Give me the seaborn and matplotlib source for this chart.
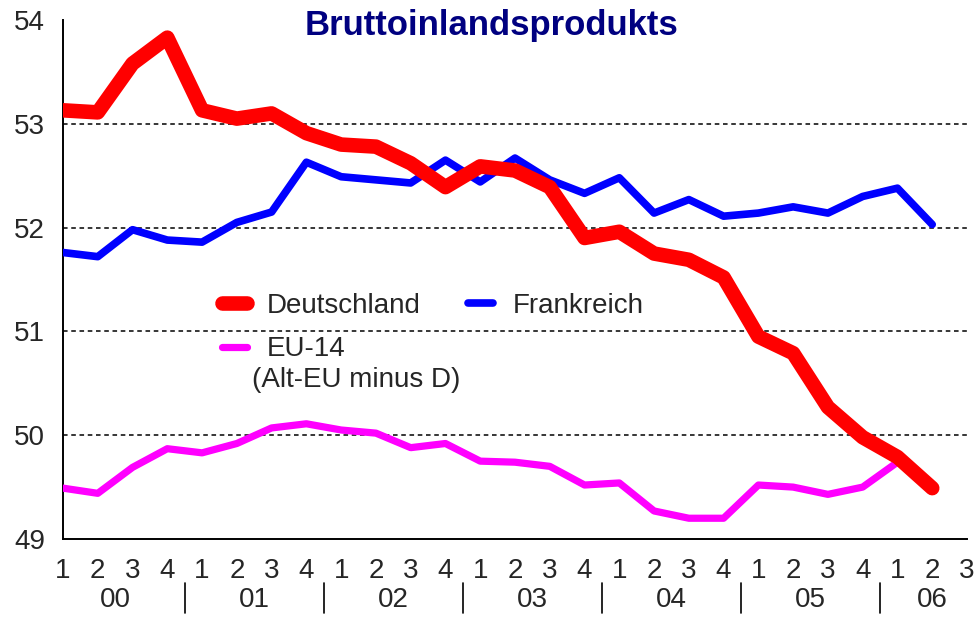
import numpy as np
import pandas as pd
import seaborn as sns
import matplotlib.pyplot as plt
from matplotlib.lines import Line2D

# quarterly values, 2000 Q1 .. 2006 Q2
quarters = ['1', '2', '3', '4'] * 6 + ['1', '2', '3']
years = ['00', '01', '02', '03', '04', '05', '06']

deutschland = [53.13, 53.11, 53.58, 53.83, 53.13, 53.05, 53.10, 52.91, 52.80, 52.78,
               52.62, 52.39, 52.59, 52.55, 52.39, 51.90, 51.96, 51.75, 51.69, 51.52,
               50.95, 50.79, 50.27, 49.98, 49.79, 49.49]
frankreich = [51.76, 51.72, 51.98, 51.88, 51.86, 52.05, 52.15, 52.63, 52.49, 52.46,
              52.43, 52.65, 52.44, 52.67, 52.46, 52.33, 52.48, 52.14, 52.27, 52.11,
              52.14, 52.20, 52.14, 52.30, 52.38, 52.03]
eu14 = [49.49, 49.44, 49.69, 49.87, 49.83, 49.92, 50.07, 50.11, 50.05, 50.02,
        49.88, 49.92, 49.75, 49.74, 49.70, 49.52, 49.54, 49.27, 49.20, 49.20,
        49.52, 49.50, 49.43, 49.50, 49.74, np.nan]

grid_levels = [50, 51, 52, 53]

sns.set_style('white')
plt.rcParams['font.family'] = ['Liberation Sans', 'DejaVu Sans']

t = np.arange(len(deutschland))
df = pd.DataFrame({'t': t, 'Deutschland': deutschland,
                   'Frankreich': frankreich, 'EU-14': eu14})

fig = plt.figure(figsize=(9.78, 6.17), dpi=100)
ax = fig.add_axes([63 / 978, 1 - 539 / 617, (967 - 63) / 978, (539 - 20) / 617])

for lev in grid_levels:
    ax.axhline(lev, color='black', lw=1.1, linestyle=(0, (3, 2.4)), zorder=1)

# draw order: EU-14, Frankreich, Deutschland on top
sns.lineplot(data=df, x='t', y='EU-14', color='#ff00ff', lw=5.2, ax=ax,
             solid_capstyle='round', solid_joinstyle='round', zorder=3)
sns.lineplot(data=df, x='t', y='Frankreich', color='#0000ff', lw=5.5, ax=ax,
             solid_capstyle='round', solid_joinstyle='round', zorder=4)
sns.lineplot(data=df, x='t', y='Deutschland', color='#ff0000', lw=10.5, ax=ax,
             solid_capstyle='round', solid_joinstyle='round', zorder=5)

ax.set_xlim(0, len(quarters) - 1)
ax.set_ylim(49, 54)
ax.set_xlabel('')
ax.set_ylabel('')
ax.set_xticks(range(len(quarters)))
ax.set_xticklabels(quarters)
ax.set_yticks([49, 50, 51, 52, 53, 54])
ax.tick_params(axis='x', length=0, pad=14, labelsize=20)
ax.tick_params(axis='y', direction='in', length=4, width=1, pad=13, labelsize=20)
sns.despine(ax=ax)
for s in ['left', 'bottom']:
    ax.spines[s].set_color('black')
    ax.spines[s].set_linewidth(1.4)

# year labels and separators under the quarter ticks
trans = ax.get_xaxis_transform()
for i, yr in enumerate(years):
    start = 4 * i
    end = min(start + 3, len(quarters) - 1)
    ax.text((start + end) / 2, -0.118, yr, transform=trans, ha='center', va='center',
            fontsize=20)
    if i > 0:
        ax.add_line(Line2D([start - 0.5, start - 0.5], [-0.085, -0.143], transform=trans,
                           color='black', lw=1.2, clip_on=False))

# legend
handles = [Line2D([], [], color='#ff0000', lw=10.5, solid_capstyle='round'),
           Line2D([], [], color='#ff00ff', lw=5.2, solid_capstyle='round'),
           Line2D([], [], color='#0000ff', lw=5.5, solid_capstyle='round')]
labels = ['Deutschland', 'EU-14', 'Frankreich']
ax.legend(handles, labels, ncol=2, frameon=False, fontsize=20,
          loc='upper left', bbox_to_anchor=(222 / 978, 1 - 293 / 617),
          bbox_transform=fig.transFigure, borderpad=0, borderaxespad=0,
          handlelength=0.9, handletextpad=0.72, columnspacing=1.7, labelspacing=0.62)
fig.text(252 / 978, 1 - 380 / 617, '(Alt-EU minus D)', fontsize=20, va='center', ha='left')

fig.text(492 / 978, 1 - 35 / 617, 'Bruttoinlandsprodukts', fontsize=25, fontweight='bold',
         color='#000080', ha='center', va='baseline')

fig.savefig('out.png', dpi=100)
